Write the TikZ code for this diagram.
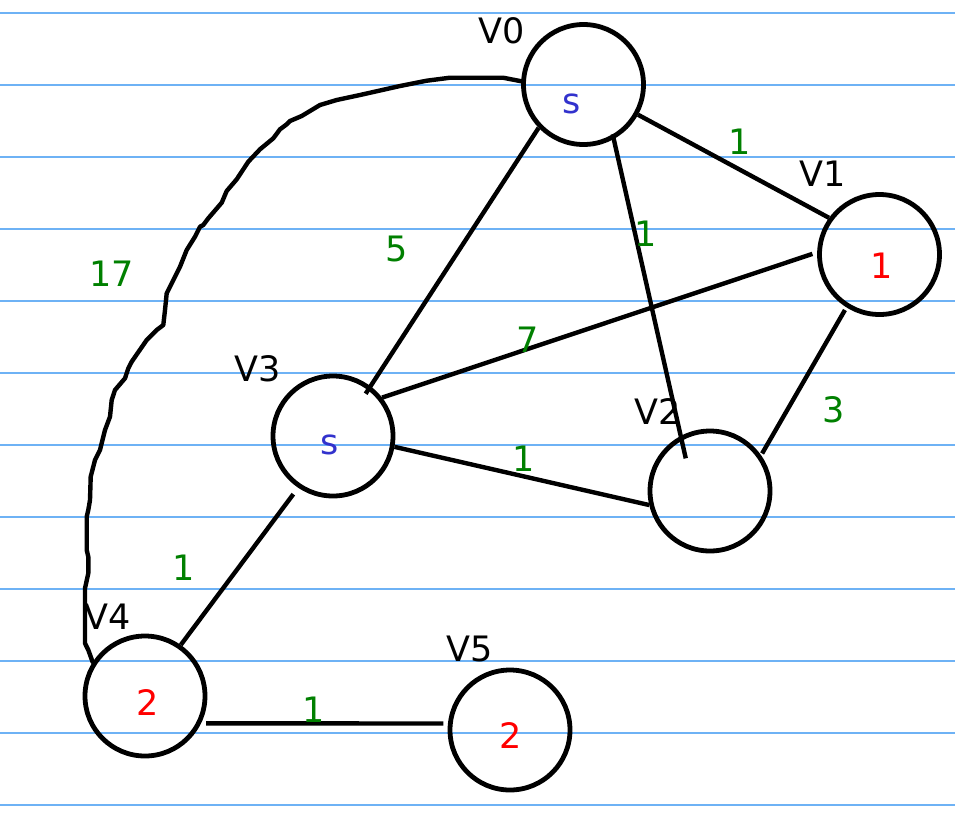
\documentclass[tikz,border=0pt]{standalone}
\usepackage{fontspec}
\setmainfont{DejaVu Sans}
\usepackage{tikz}
\definecolor{rulecol}{RGB}{110,178,245}
\definecolor{sblue}{RGB}{50,50,205}
\definecolor{wgreen}{RGB}{0,128,0}

\begin{document}
\begin{tikzpicture}[x=1pt, y=-1pt,
	main/.style = {draw, circle, line width=4.8pt, minimum size=120pt, inner sep=0pt},
	edge/.style = {line width=4.4pt},
	txt/.style = {inner sep=0pt, font=\fontsize{35}{40}\selectfont},
	wt/.style = {txt, text=wgreen},
	rule/.style = {rulecol, line width=2pt}]
	\useasboundingbox (0,0) rectangle (955,815);
	\fill[white] (0,0) rectangle (955,815);
	% ruled paper
	\foreach \k in {0,...,11}
		\draw[rule] (0,{12.7+72*\k}) -- (955,{12.7+72*\k});
	% vertices
	\node[main] (v0) at (583.5,84.5) {};
	\node[main] (v1) at (879.5,254.5) {};
	\node[main] (v2) at (710,491) {};
	\node[main] (v3) at (333,436) {};
	\node[main] (v4) at (145,696) {};
	\node[main] (v5) at (510,730) {};
	\node[txt] (n0) at (501.5,30.5) {V0};
	\node[txt] (n1) at (823,174) {V1};
	\node[txt] (n2) at (658,411.5) {V2};
	\node[txt] (n3) at (258,369) {V3};
	\node[txt] (n4) at (108,617) {V4};
	\node[txt] (n5) at (470,649) {V5};
	\node[txt, text=sblue] (d0) at (571.5,104) {s};
	\node[txt, text=red] (d1) at (881.5,266) {1};
	\node[txt, text=sblue] (d3) at (330,445) {s};
	\node[txt, text=red] (d4) at (147.5,702.5) {2};
	\node[txt, text=red] (d5) at (511,735) {2};
	% edges
	\draw[edge] (v0.-29) -- (v1.144);
	\draw[edge, shorten <=-5pt, shorten >=-23pt] (v0.-61) -- (v2.118);
	\draw[edge, shorten >=-9pt] (v0.224) -- (v3.53);
	\draw[edge, shorten <=5pt] (v1.178) -- (v3.38);
	\draw[edge, shorten <=3pt, shorten >=2pt] (v1.238) -- (v2.35);
	\draw[edge] (v3.-10) -- (v2.193);
	\draw[edge, shorten <=8pt] (v3.236) -- (v4.55);
	\draw[edge, shorten <=5pt, shorten >=4.5pt] (v4.-26.6) -- (v5.174.5);
	\draw[edge, line join=round, line cap=round] (v0.177) -- (503,77.7) -- (450,77.7) -- (426.7,80.7)
		-- (400,86) -- (360,95) -- (336.7,100) -- (320,105) -- (301.7,116) -- (290,121)
		-- (286.7,124.3) -- (280,129.3) -- (273.3,138.3) -- (260,149.3) -- (248.3,161.7)
		-- (236.7,179.3) -- (226.7,191) -- (221.7,202.7) -- (208.3,218.3) -- (203.3,225)
		-- (200,226.7) -- (195,236.7) -- (186.7,250) -- (180,266.7) -- (166.7,293.3)
		-- (165,310) -- (163.3,325) -- (156.7,330) -- (146.7,340) -- (131.7,361.7)
		-- (128.3,368.3) -- (125,378.3) -- (115,390) -- (111.7,400) -- (110,416.7)
		-- (105,430) -- (100,450) -- (95,460) -- (90.7,476.7) -- (90,500) -- (88.3,510)
		-- (86.7,516.7) -- (86.7,550) -- (88.3,556.7) -- (88.3,573.3) -- (85,588.3)
		-- (85,643.3) -- (88.3,650) -- (v4.147);
	% weights
	\node[wt] (w01) at (740,142) {1};
	\node[wt] (w02) at (646,234) {1};
	\node[wt] (w03) at (397,249) {5};
	\node[wt] (w13) at (528,340) {7};
	\node[wt] (w12) at (834,410) {3};
	\node[wt] (w23) at (523.5,459) {1};
	\node[wt] (w34) at (183.5,568) {1};
	\node[wt] (w45) at (313.5,710) {1};
	\node[wt] (w04) at (112,274) {17};
\end{tikzpicture}
\end{document}
